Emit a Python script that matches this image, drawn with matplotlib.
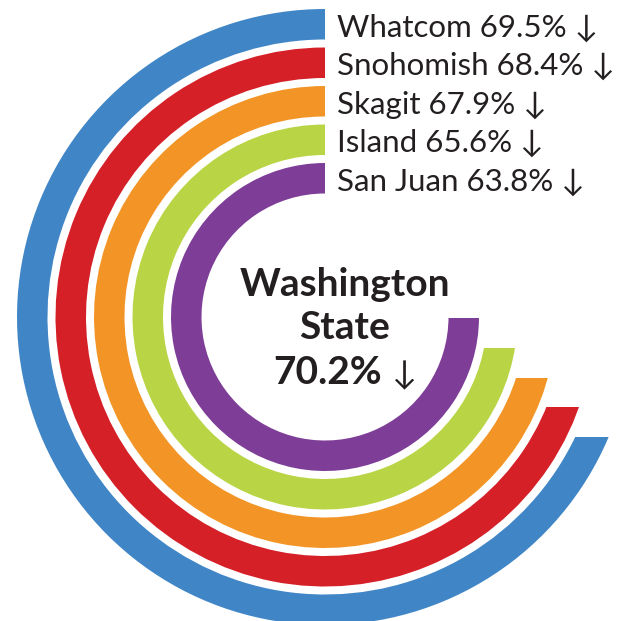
import matplotlib.pyplot as plt
from matplotlib.patches import Wedge, Polygon

# county values (percent) and ring colours, outermost first
counties = ["Whatcom", "Snohomish", "Skagit", "Island", "San Juan"]
values = [69.5, 68.4, 67.9, 65.6, 63.8]
colors = ["#4086c6", "#d52028", "#f39526", "#b9d545", "#7e3d96"]
state_value = 70.2

# ring geometry in pixels
cx, cy = 325, 304
r_outer = 308
ring_w = 30.5
ring_step = 38.5
cut_step = 29.7  # how far each ring's end drops below centre

text_color = "#231f20"
fonts = ["Lato", "DejaVu Sans"]

fig = plt.figure(figsize=(6.34, 6.21), dpi=100)
ax = fig.add_axes([0, 0, 1, 1])
ax.set_xlim(0, 634)
ax.set_ylim(0, 621)
ax.axis("off")

n = len(counties)
for i, (name, val, col) in enumerate(zip(counties, values, colors)):
    r = r_outer - i * ring_step
    cut = (n - 1 - i) * cut_step + 1.3
    # ring from 12 o'clock counter-clockwise round to 3 o'clock
    w = Wedge((cx, cy), r, 90, 360, width=ring_w, facecolor=col, edgecolor="none")
    ax.add_patch(w)
    # flat horizontal end, lower right
    clip = Polygon(
        [(cx, 2000), (-2000, 2000), (-2000, -2000), (2000, -2000),
         (2000, cy - cut), (cx, cy - cut)],
        closed=True, transform=ax.transData,
    )
    w.set_clip_path(clip)
    # label next to the start of each ring
    ax.text(cx + 12, cy + r - ring_w / 2 - 12, f"{name} {val}% \u2193",
            fontsize=22.5, color=text_color, family=fonts,
            ha="left", va="baseline")

# centre label
ax.text(345, 325, "Washington", fontsize=28, fontweight="bold",
        color=text_color, family=fonts, ha="center", va="baseline")
ax.text(345, 282, "State", fontsize=28, fontweight="bold",
        color=text_color, family=fonts, ha="center", va="baseline")
ax.text(382, 237, f"{state_value}%", fontsize=28, fontweight="bold",
        color=text_color, family=fonts, ha="right", va="baseline")
ax.text(392, 237, "\u2193", fontsize=24, color=text_color,
        family=fonts, ha="left", va="baseline")

fig.savefig("out.png", dpi=100)
